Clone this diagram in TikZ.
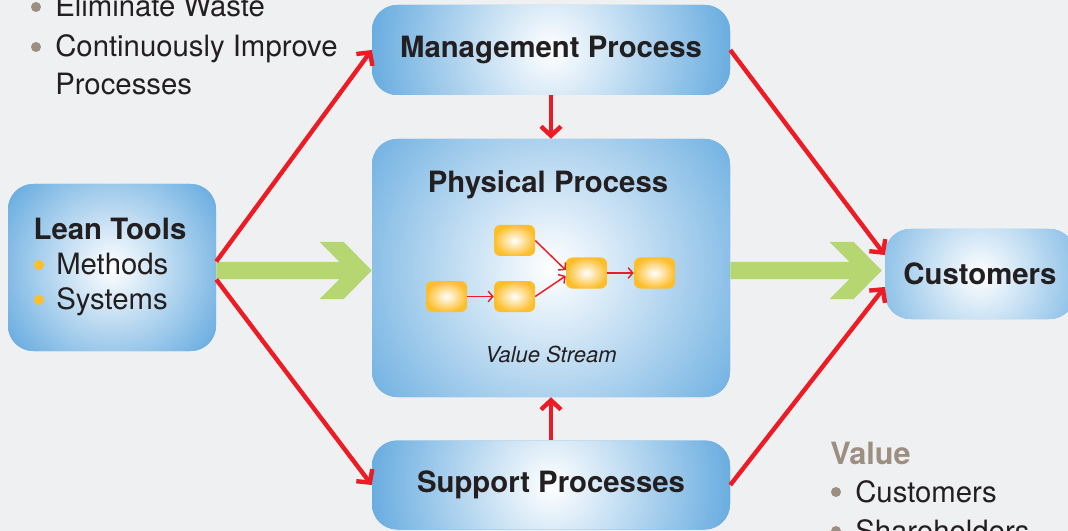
\documentclass[tikz,border=0pt]{standalone}
\usepackage{fontspec}
\setmainfont{TeX Gyre Heros}
\usetikzlibrary{calc}
\usetikzlibrary{arrows.meta}
\usetikzlibrary{positioning}

\definecolor{bggray}{RGB}{239,240,242}
\definecolor{boxblue}{RGB}{100,170,223}
\definecolor{boxyellow}{RGB}{253,190,44}
\definecolor{leanred}{RGB}{237,28,36}
\definecolor{flowgreen}{RGB}{181,214,112}
\definecolor{inkblack}{RGB}{35,31,32}
\definecolor{taupe}{RGB}{156,143,130}

\newcommand{\pxu}{0.75pt}
\newcommand{\bigfont}{\fontsize{22}{26}\selectfont}
% broad green value-stream arrow, #1 = start, #2 = tip
\newcommand{\flowarrow}[2]{%
  \fill[flowgreen] ($(#1)+(0,-8.5)$) -- ($(#2)+(-32,-8.5)$) -- ($(#2)+(-52,-28.5)$)
    -- ($(#2)+(-28,-28.5)$) -- (#2) -- ($(#2)+(-28,28.5)$) -- ($(#2)+(-52,28.5)$)
    -- ($(#2)+(-32,8.5)$) -- ($(#1)+(0,8.5)$) -- cycle;}

\tikzset{
  glow/.style = {draw=none, fill=boxblue, rounded corners=19pt, inner sep=0,
    text=inkblack, font=\bigfont\bfseries,
    path picture={\shade[inner color=white, outer color=boxblue]
      (path picture bounding box.center) circle (#1);}},
  station/.style = {rounded corners=4.5pt, inner sep=0, minimum width=41*\pxu,
    minimum height=31*\pxu, inner color=white, outer color=boxyellow},
  listtext/.style = {anchor=base west, inner sep=0, font=\bigfont, text=inkblack},
  redarrow/.style = {leanred, line width=3.3pt, -{Straight Barb[length=7pt,width=15pt]}},
  thinred/.style = {leanred, line width=1.1pt, -{Straight Barb[length=3.5pt,width=8pt]}}
}

\begin{document}
\begin{tikzpicture}[x=0.75pt, y=-0.75pt]
\useasboundingbox (0,0) rectangle (1068,531);
\clip (0,0) rectangle (1068,531);
\fill[bggray] (0,0) rectangle (1068,531);

% boxes
\node [glow=140pt, minimum width=358*\pxu, minimum height=90*\pxu] (mgmt) at (551,50) {Management Process};
\node [glow=180pt, minimum width=358*\pxu, minimum height=258*\pxu] (phys) at (551,268) {};
\node [glow=140pt, minimum width=358*\pxu, minimum height=89*\pxu] (supp) at (551,485) {Support Processes};
\node [glow=98pt, minimum width=208*\pxu, minimum height=167*\pxu] (lean) at (112,267.5) {};
\node [glow=102pt, minimum width=190*\pxu, minimum height=90*\pxu] (cust) at (980,274) {Customers};

% physical process inside
\node [anchor=base, inner sep=0, font=\bigfont\bfseries, text=inkblack] (phystitle) at (548,193) {Physical Process};
\node [anchor=base, inner sep=0, font=\fontsize{16.5}{19}\selectfont\itshape, text=inkblack] (stream) at (551,362) {Value Stream};
\node [station] (feed) at (446.5,296.5) {};
\node [station] (upper) at (514.5,240.5) {};
\node [station] (lower) at (514.5,296.5) {};
\node [station] (merge) at (586.5,273) {};
\node [station] (ship) at (654.5,273) {};
\draw [thinred] (feed) -- (lower);
\draw [thinred] (upper.east) -- (merge.172);
\draw [thinred] (lower.east) -- (merge.188);
\draw [thinred] (merge) -- (ship);

% lean tools text
\node [anchor=base, inner sep=0, font=\bigfont\bfseries, text=inkblack] (leantitle) at (110,240) {Lean Tools};
\node [listtext] (methods) at (56,275) {Methods};
\node [listtext] (systems) at (56,310) {Systems};
\foreach \entry in {methods, systems}
  \fill [boxyellow] ($(\entry.base west)+(-17,-10)$) circle (3.75pt);

% goals, top left
\node [listtext] (waste) at (55,17) {Eliminate Waste};
\node [listtext] (improve) at (55,57) {Continuously Improve};
\node [listtext] (improvemore) at (55,95) {Processes};

% value, bottom right
\node [anchor=base west, inner sep=0, font=\fontsize{23}{26}\selectfont\bfseries, text=taupe] (value) at (830,464) {Value};
\node [listtext] (valcust) at (855,502) {Customers};
\node [listtext] (valshare) at (855,541) {Shareholders};
\foreach \entry in {waste, improve, valcust, valshare}
  \fill [taupe] ($(\entry.base west)+(-19,-10)$) circle (3.75pt);

% flows
\coordinate (flow) at (0,270.5);
\coordinate (leanout) at (lean.east |- flow);
\coordinate (physin) at (phys.west |- flow);
\coordinate (physout) at (phys.east |- flow);
\coordinate (custin) at ($(cust.west |- flow)+(-3,0)$);
\flowarrow{leanout}{physin}
\flowarrow{physout}{custin}

\draw [redarrow] ($(leanout)+(0,-9)$) -- (mgmt.west);
\draw [redarrow] ($(leanout)+(0,9)$) -- (supp.west);
\draw [redarrow] (mgmt.east) -- ($(cust.west)+(0,-19)$);
\draw [redarrow] (supp.east) -- ($(cust.west)+(0,13)$);
\draw [redarrow] (mgmt.south) -- (phys.north);
\draw [redarrow] (supp.north) -- (phys.south);
\end{tikzpicture}
\end{document}
